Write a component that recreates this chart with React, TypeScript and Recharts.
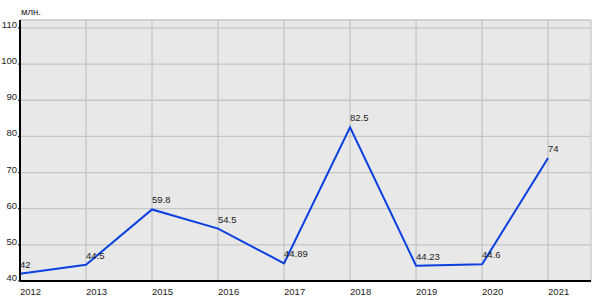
import React from 'react';
import { LineChart, Line, XAxis, YAxis, CartesianGrid, LabelList, Label } from 'recharts';

const years = ['2012', '2013', '2015', '2016', '2017', '2018', '2019', '2020', '2021'];
const values = [42, 44.5, 59.8, 54.5, 44.89, 82.5, 44.23, 44.6, 74];
const yTicks = [40, 50, 60, 70, 80, 90, 100, 110];

const FONT = '"Liberation Sans", Arial, sans-serif';

const data = years.map((y, i) => ({ i, year: y, value: values[i] }));

const XTick = (props: any) => {
  const { x, y, payload } = props;
  return (
    <text x={x} y={y + 6} textAnchor="start" fontSize={9.5} fontFamily={FONT} fill="#222">
      {years[payload.value]}
    </text>
  );
};

const YTick = (props: any) => {
  const { x, y, payload } = props;
  return (
    <text x={x + 1} y={y} textAnchor="end" fontSize={9.5} fontFamily={FONT} fill="#222">
      {payload.value}
    </text>
  );
};

const PointLabel = (props: any) => {
  const { x, y, value } = props;
  return (
    <text x={x} y={y - 6} textAnchor="start" fontSize={9.5} fontFamily={FONT} fill="#222">
      {value}
    </text>
  );
};

export default function App() {
  return (
    <div style={{ position: 'absolute', left: 0, top: 0, background: '#fff' }}>
      <LineChart width={600} height={300} data={data} margin={{ top: 20, right: 9, bottom: 0, left: 0 }}>
        <CartesianGrid fill="#e8e8e8" stroke="#c6c6c6" strokeWidth={1.3} />
        <XAxis
          dataKey="i"
          type="number"
          domain={[0, 8.65]}
          ticks={years.map((_, i) => i)}
          interval={0}
          height={19}
          tick={<XTick />}
          tickLine={false}
          axisLine={{ stroke: '#000', strokeWidth: 2 }}
          allowDataOverflow
        />
        <YAxis
          domain={[40, 112.2]}
          ticks={yTicks}
          width={20}
          tick={<YTick />}
          tickSize={2}
          tickLine={{ stroke: '#000' }}
          axisLine={{ stroke: '#000', strokeWidth: 2 }}
          allowDataOverflow
        >
          <Label
            content={() => (
              <text x={21} y={15} fontSize={9.5} fontFamily={FONT} fill="#222">
                млн.
              </text>
            )}
          />
        </YAxis>
        <Line
          type="linear"
          dataKey="value"
          stroke="#0a40e0"
          strokeWidth={2}
          dot={false}
          isAnimationActive={false}
        >
          <LabelList dataKey="value" content={<PointLabel />} />
        </Line>
      </LineChart>
    </div>
  );
}
